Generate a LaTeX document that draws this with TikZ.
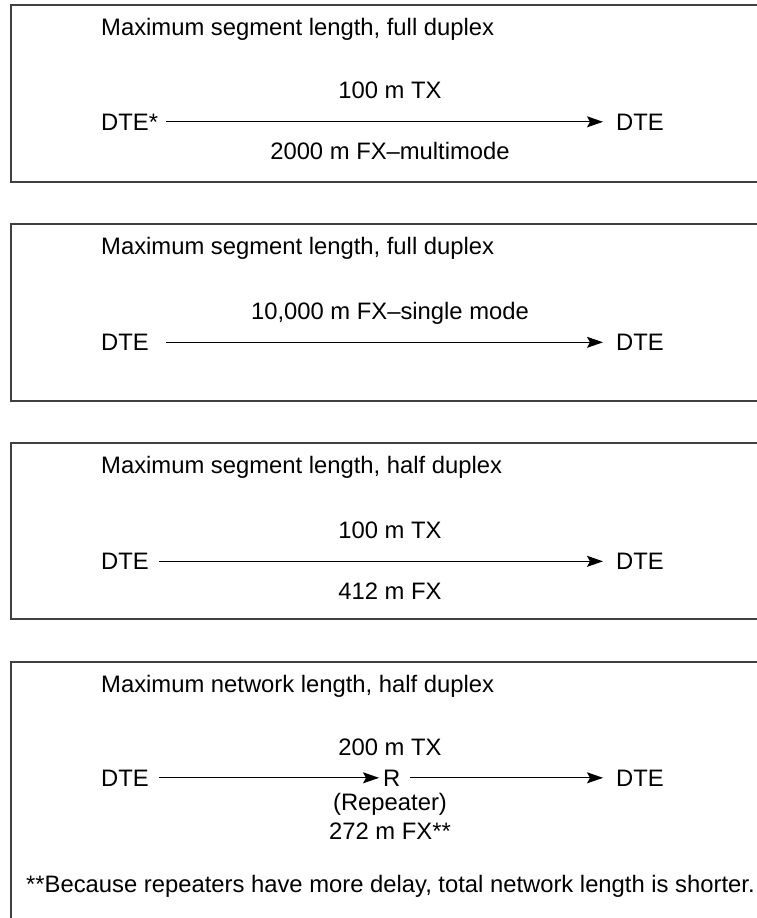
\documentclass[tikz,border=0pt]{standalone}
\usepackage{fontspec}
\setmainfont{Liberation Sans}
\usetikzlibrary{arrows.meta}
\newcommand{\lblfont}{\fontsize{23.8}{28}\selectfont}

\begin{document}
\begin{tikzpicture}[x=1pt, y=-1pt,
    every node/.style={inner sep=0pt, font=\lblfont},
    frame/.style={draw=black!75, line width=1.4pt},
    link/.style={-{Stealth[length=16pt, width=11pt, inset=3pt]}, line width=1.1pt}]
\clip (0,0) rectangle (757,918);
% draw the four frames (open to the right)
\foreach \t/\b in {5/182, 224/401, 443/619, 662/940}{
\draw[frame] (11,\t) rectangle (780,\b);
}
%
% full duplex, copper and multimode
\node[anchor=base west] (head1) at (101, 35.5) {Maximum segment length, full duplex};
\node[anchor=base] (top1) at (390, 98.5) {100 m TX};
\node[anchor=base west] (src1) at (101, 130) {DTE*};
\node[anchor=base west] (dst1) at (616, 130) {DTE};
\node[anchor=base] (bot1) at (390, 159) {2000 m FX--multimode};
\draw[link] ([xshift=8pt]src1.east) -- ([xshift=-13pt]dst1.west);
%
% full duplex, single mode
\node[anchor=base west] (head2) at (101, 254.5) {Maximum segment length, full duplex};
\node[anchor=base] (top2) at (390, 319.5) {10,000 m FX--single mode};
\node[anchor=base west] (src2) at (101, 350.5) {DTE};
\node[anchor=base west] (dst2) at (616, 350.5) {DTE};
\draw[link] ([xshift=17pt]src2.east) -- ([xshift=-13pt]dst2.west);
%
% half duplex segment
\node[anchor=base west] (head3) at (101, 473.5) {Maximum segment length, half duplex};
\node[anchor=base] (top3) at (390, 538.5) {100 m TX};
\node[anchor=base west] (src3) at (101, 569.5) {DTE};
\node[anchor=base west] (dst3) at (616, 569.5) {DTE};
\node[anchor=base] (bot3) at (390, 599.5) {412 m FX};
\draw[link] ([xshift=10pt]src3.east) -- ([xshift=-13pt]dst3.west);
%
% half duplex network with repeater
\node[anchor=base west] (head4) at (101, 692.5) {Maximum network length, half duplex};
\node[anchor=base] (top4) at (390, 755.5) {200 m TX};
\node[anchor=base west] (src4) at (101, 786) {DTE};
\node[anchor=base west] (rep) at (383, 786) {R};
\node[anchor=base west] (dst4) at (616, 786) {DTE};
\node[anchor=base] (note4) at (390, 810) {(Repeater)};
\node[anchor=base] (bot4) at (390, 839.5) {272 m FX**};
\draw[link] ([xshift=10pt]src4.east) -- ([xshift=-4pt]rep.west);
\draw[link] ([xshift=9pt]rep.east) -- ([xshift=-13pt]dst4.west);
\node[anchor=base west] (foot) at (26, 892) {**Because repeaters have more delay, total network length is shorter.};
\end{tikzpicture}
\end{document}
